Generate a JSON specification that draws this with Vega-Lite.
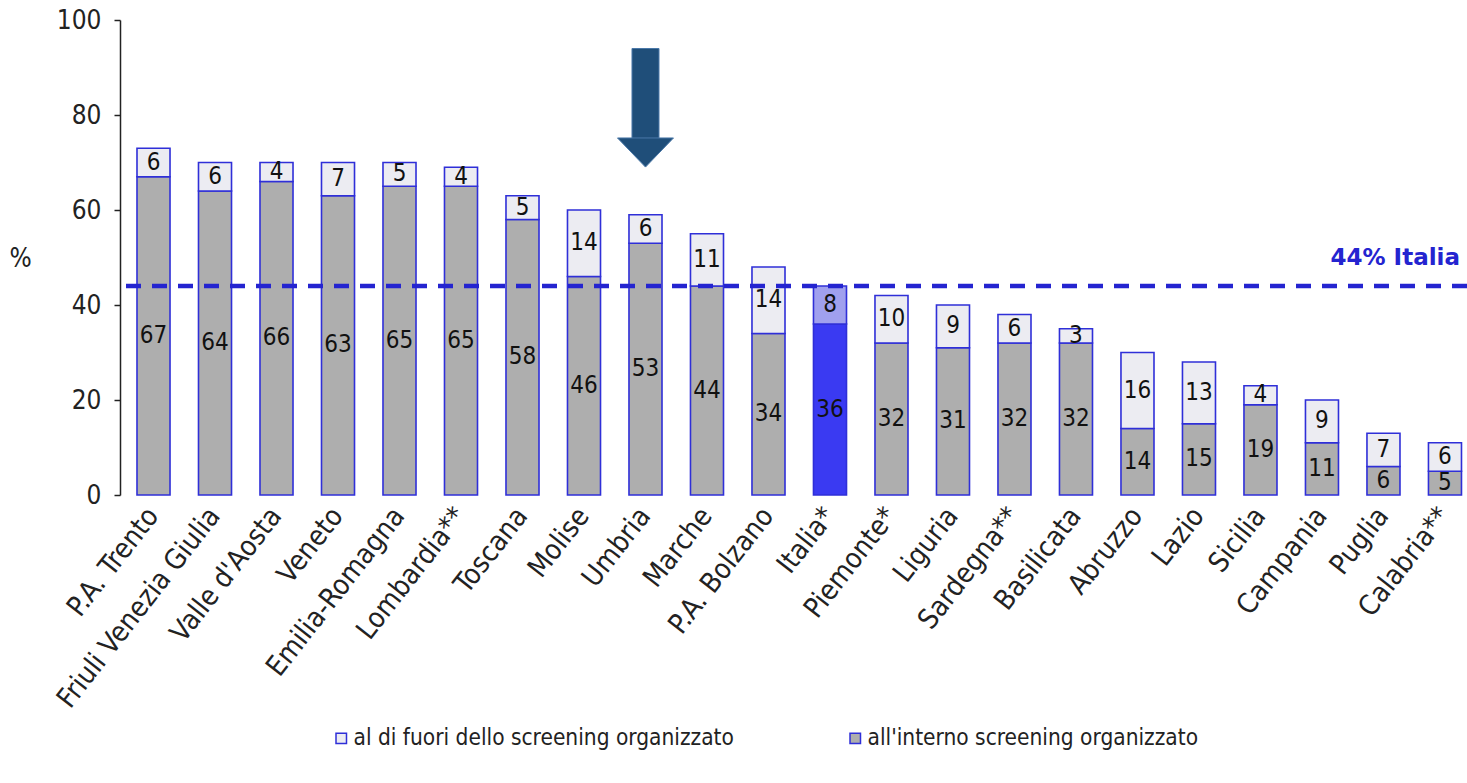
{
  "$schema": "https://vega.github.io/schema/vega-lite/v6.json",
  "autosize": {"type": "none"},
  "padding": {"left": 120, "top": 20, "right": 0, "bottom": 288},
  "width": 1347,
  "height": 475,
  "background": "white",
  "config": {
    "view": {"stroke": null},
    "font": "DejaVu Sans Condensed, DejaVu Sans, sans-serif"
  },
  "data": {
    "values": [
      {"regione": "P.A. Trento", "serie": "all'interno screening organizzato", "valore": 67},
      {"regione": "P.A. Trento", "serie": "al di fuori dello screening organizzato", "valore": 6},
      {"regione": "Friuli Venezia Giulia", "serie": "all'interno screening organizzato", "valore": 64},
      {"regione": "Friuli Venezia Giulia", "serie": "al di fuori dello screening organizzato", "valore": 6},
      {"regione": "Valle d'Aosta", "serie": "all'interno screening organizzato", "valore": 66},
      {"regione": "Valle d'Aosta", "serie": "al di fuori dello screening organizzato", "valore": 4},
      {"regione": "Veneto", "serie": "all'interno screening organizzato", "valore": 63},
      {"regione": "Veneto", "serie": "al di fuori dello screening organizzato", "valore": 7},
      {"regione": "Emilia-Romagna", "serie": "all'interno screening organizzato", "valore": 65},
      {"regione": "Emilia-Romagna", "serie": "al di fuori dello screening organizzato", "valore": 5},
      {"regione": "Lombardia**", "serie": "all'interno screening organizzato", "valore": 65},
      {"regione": "Lombardia**", "serie": "al di fuori dello screening organizzato", "valore": 4},
      {"regione": "Toscana", "serie": "all'interno screening organizzato", "valore": 58},
      {"regione": "Toscana", "serie": "al di fuori dello screening organizzato", "valore": 5},
      {"regione": "Molise", "serie": "all'interno screening organizzato", "valore": 46},
      {"regione": "Molise", "serie": "al di fuori dello screening organizzato", "valore": 14},
      {"regione": "Umbria", "serie": "all'interno screening organizzato", "valore": 53},
      {"regione": "Umbria", "serie": "al di fuori dello screening organizzato", "valore": 6},
      {"regione": "Marche", "serie": "all'interno screening organizzato", "valore": 44},
      {"regione": "Marche", "serie": "al di fuori dello screening organizzato", "valore": 11},
      {"regione": "P.A. Bolzano", "serie": "all'interno screening organizzato", "valore": 34},
      {"regione": "P.A. Bolzano", "serie": "al di fuori dello screening organizzato", "valore": 14},
      {"regione": "Italia*", "serie": "all'interno screening organizzato", "valore": 36},
      {"regione": "Italia*", "serie": "al di fuori dello screening organizzato", "valore": 8},
      {"regione": "Piemonte*", "serie": "all'interno screening organizzato", "valore": 32},
      {"regione": "Piemonte*", "serie": "al di fuori dello screening organizzato", "valore": 10},
      {"regione": "Liguria", "serie": "all'interno screening organizzato", "valore": 31},
      {"regione": "Liguria", "serie": "al di fuori dello screening organizzato", "valore": 9},
      {"regione": "Sardegna**", "serie": "all'interno screening organizzato", "valore": 32},
      {"regione": "Sardegna**", "serie": "al di fuori dello screening organizzato", "valore": 6},
      {"regione": "Basilicata", "serie": "all'interno screening organizzato", "valore": 32},
      {"regione": "Basilicata", "serie": "al di fuori dello screening organizzato", "valore": 3},
      {"regione": "Abruzzo", "serie": "all'interno screening organizzato", "valore": 14},
      {"regione": "Abruzzo", "serie": "al di fuori dello screening organizzato", "valore": 16},
      {"regione": "Lazio", "serie": "all'interno screening organizzato", "valore": 15},
      {"regione": "Lazio", "serie": "al di fuori dello screening organizzato", "valore": 13},
      {"regione": "Sicilia", "serie": "all'interno screening organizzato", "valore": 19},
      {"regione": "Sicilia", "serie": "al di fuori dello screening organizzato", "valore": 4},
      {"regione": "Campania", "serie": "all'interno screening organizzato", "valore": 11},
      {"regione": "Campania", "serie": "al di fuori dello screening organizzato", "valore": 9},
      {"regione": "Puglia", "serie": "all'interno screening organizzato", "valore": 6},
      {"regione": "Puglia", "serie": "al di fuori dello screening organizzato", "valore": 7},
      {"regione": "Calabria**", "serie": "all'interno screening organizzato", "valore": 5},
      {"regione": "Calabria**", "serie": "al di fuori dello screening organizzato", "valore": 6}
    ]
  },
  "transform": [
    {
      "stack": "valore",
      "groupby": ["regione"],
      "sort": [{"field": "serie", "order": "descending"}],
      "as": ["v0", "v1"]
    }
  ],
  "layer": [
    {
      "mark": {"type": "bar", "stroke": "#2f2fd8", "strokeWidth": 1.6},
      "encoding": {
        "x": {
          "field": "regione",
          "type": "nominal",
          "sort": null,
          "scale": {"paddingInner": 0.463, "paddingOuter": 0.183, "align": 0.755},
          "axis": {
            "title": null,
            "domain": false,
            "ticks": false,
            "labelAngle": -52,
            "labelFontSize": 28,
            "labelColor": "#222222",
            "labelPadding": 16,
            "labelLimit": 400
          }
        },
        "y": {
          "field": "v1",
          "type": "quantitative",
          "scale": {"domain": [0, 100], "nice": false},
          "axis": {
            "values": [0, 20, 40, 60, 80, 100],
            "grid": false,
            "title": "%",
            "titleAngle": 0,
            "titleX": -100,
            "titleY": 238,
            "titleAlign": "center",
            "titleBaseline": "middle",
            "titleFontSize": 26,
            "titleFontWeight": "normal",
            "titleColor": "#222222",
            "labelFontSize": 26,
            "labelColor": "#222222",
            "labelPadding": 13,
            "domainColor": "#222222",
            "domainWidth": 1.5,
            "tickColor": "#222222",
            "tickWidth": 1.5,
            "tickSize": 6
          }
        },
        "y2": {"field": "v0"},
        "fill": {
          "condition": [
            {"test": "datum.regione === 'Italia*' && test(/interno/, datum.serie)", "value": "#3a3af2"},
            {"test": "datum.regione === 'Italia*'", "value": "#a0a0ee"}
          ],
          "field": "serie",
          "type": "nominal",
          "scale": {
            "domain": ["al di fuori dello screening organizzato", "all'interno screening organizzato"],
            "range": ["#ececf2", "#aeaeae"]
          },
          "legend": {
            "title": null,
            "orient": "none",
            "direction": "horizontal",
            "legendX": 210,
            "legendY": 707,
            "symbolType": "square",
            "symbolSize": 110,
            "symbolStrokeColor": "#2f2fd8",
            "symbolStrokeWidth": 1.5,
            "labelFontSize": 22.5,
            "labelColor": "#222222",
            "labelLimit": 600,
            "labelOffset": 1,
            "columnPadding": 110
          }
        },
        "order": {"field": "serie", "sort": "descending"}
      }
    },
    {
      "transform": [
        {"fold": ["v0", "v1"], "as": ["estremo", "pos"]},
        {"aggregate": [{"op": "mean", "field": "pos", "as": "centro"}], "groupby": ["regione", "serie", "valore"]}
      ],
      "mark": {"type": "text", "fontSize": 24, "color": "#111111", "baseline": "middle"},
      "encoding": {
        "x": {"field": "regione", "type": "nominal", "sort": null},
        "y": {"field": "centro", "type": "quantitative"},
        "text": {"field": "valore", "type": "quantitative"}
      }
    },
    {
      "data": {"values": [{}]},
      "mark": {"type": "rule", "color": "#2424d0", "strokeWidth": 4.5, "strokeDash": [15, 11]},
      "encoding": {"y": {"datum": 44}}
    },
    {
      "data": {"values": [{}]},
      "mark": {"type": "text", "text": "44% Italia", "font": "DejaVu Sans", "fontWeight": "bold", "fontSize": 23, "color": "#2424d0", "align": "right", "baseline": "middle", "dx": 15, "dy": -28},
      "encoding": {
        "x": {"datum": "Calabria**"},
        "y": {"datum": 44}
      }
    },
    {
      "data": {"values": [{}]},
      "mark": {"type": "bar", "width": 27, "color": "#1f4e79", "stroke": "#4a78a8", "strokeWidth": 1},
      "encoding": {
        "x": {"datum": "Umbria"},
        "y": {"datum": 94},
        "y2": {"datum": 74}
      }
    },
    {
      "data": {"values": [{}]},
      "mark": {"type": "point", "shape": "M-1,-0.52L1,-0.52L0,0.52Z", "size": 3136, "filled": true, "color": "#1f4e79", "stroke": "#4a78a8", "strokeWidth": 1, "opacity": 1},
      "encoding": {
        "x": {"datum": "Umbria"},
        "y": {"datum": 72.1}
      }
    }
  ]
}
